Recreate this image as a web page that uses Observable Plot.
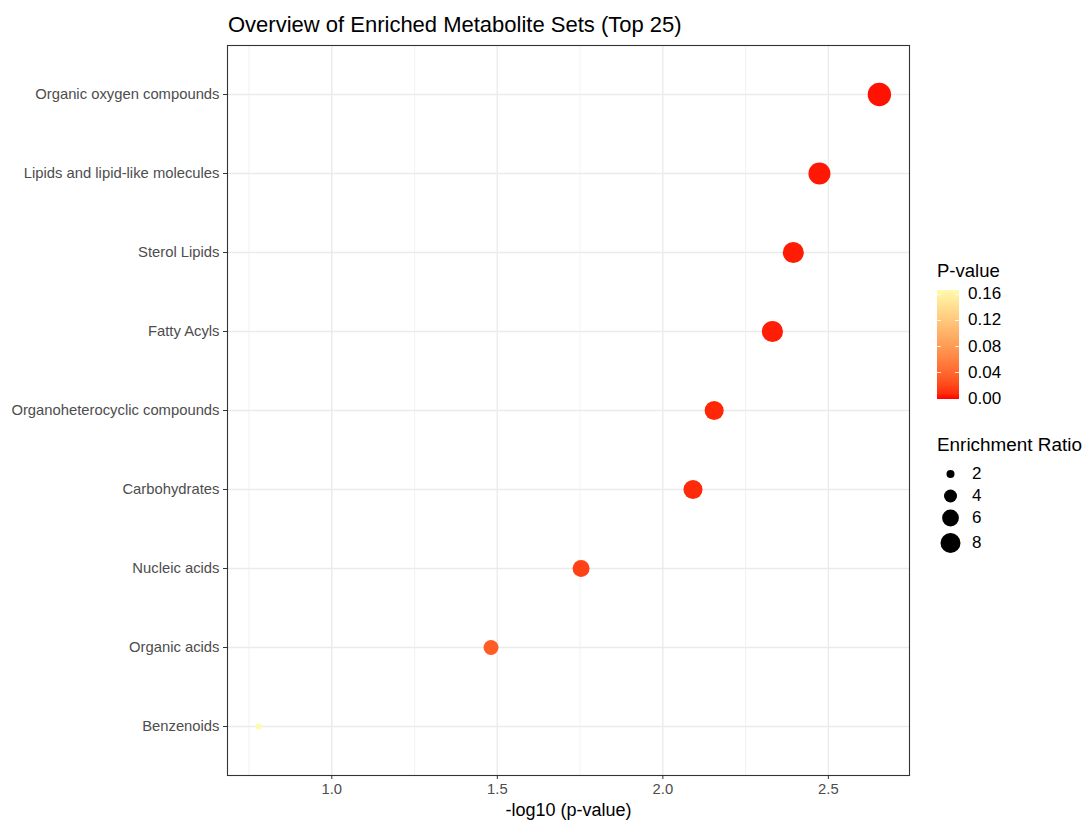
<!DOCTYPE html>
<html>
<head>
<meta charset="utf-8">
<script src="https://cdn.jsdelivr.net/npm/d3@7"></script>
<script src="https://cdn.jsdelivr.net/npm/@observablehq/plot@0.6"></script>
<style>
  body { margin: 0; background: #fff; }
  #wrap { position: relative; width: 1086px; height: 821px; font-family: "Liberation Sans", Arial, sans-serif; background: #fff; overflow: hidden; }
  #chart { position: absolute; left: 0; top: 0; }
  .abs { position: absolute; white-space: nowrap; }
</style>
</head>
<body>
<div id="wrap">
  <div id="chart"></div>
  <div id="title" class="abs" style="left:228px; top:12px; font-size:22px; color:#000;">Overview of Enriched Metabolite Sets (Top 25)</div>
  <div id="legend"></div>
</div>
<script>
// ---- data ----
const categories = [
  "Organic oxygen compounds",
  "Lipids and lipid-like molecules",
  "Sterol Lipids",
  "Fatty Acyls",
  "Organoheterocyclic compounds",
  "Carbohydrates",
  "Nucleic acids",
  "Organic acids",
  "Benzenoids"
];
const negLog10P = [2.654, 2.473, 2.394, 2.331, 2.155, 2.091, 1.753, 1.481, 0.779];
const pValues   = [0.00222, 0.00337, 0.00404, 0.00467, 0.00700, 0.00811, 0.0177, 0.0330, 0.1663];
const enrichment = [10.4, 9.4, 8.7, 8.8, 7.4, 7.4, 6.1, 5.0, 1.4];
const xTicks = [1.0, 1.5, 2.0, 2.5];
const xMinorTicks = [0.75, 1.25, 1.75, 2.25];
const colorTicks = [0.00, 0.04, 0.08, 0.12, 0.16];
const sizeTicks = [2, 4, 6, 8];
const xTitle = "-log10 (p-value)";

const data = categories.map((c, i) => ({set: c, x: negLog10P[i], p: pValues[i], er: enrichment[i]}));

const chart = Plot.plot({
  width: 1086,
  height: 821,
  marginLeft: 227,
  marginRight: 177,
  marginTop: 45,
  marginBottom: 46,
  style: {fontFamily: "'Liberation Sans', Arial, sans-serif", background: "transparent"},
  x: {domain: [0.685, 2.745]},
  y: {type: "point", domain: categories, padding: 0.6},
  color: {type: "linear", domain: [0, d3.max(pValues)], range: ["#ff0000", "#fffaac"], interpolate: "lab"},
  r: {type: "sqrt", domain: [2, 8], range: [4, 10]},
  marks: [
    Plot.ruleX(xMinorTicks, {stroke: "#ededed", strokeWidth: 0.7}),
    Plot.ruleX(xTicks, {stroke: "#ebebeb", strokeWidth: 1.4}),
    Plot.ruleY(categories, {y: d => d, stroke: "#ebebeb", strokeWidth: 1.4}),
    Plot.dot(data, {x: "x", y: "set", r: "er", fill: "p", stroke: "none"}),
    Plot.frame({stroke: "#333333", strokeWidth: 1.1}),
    Plot.axisX(xTicks, {
      tickSize: 4, tickPadding: 4, stroke: "#333333", fill: "#4d4d4d",
      fontSize: 14.8, tickFormat: d => d.toFixed(1),
      label: xTitle, labelAnchor: "center", labelArrow: "none", labelOffset: 40
    }),
    Plot.axisY({tickSize: 4, tickPadding: 4, stroke: "#333333", fill: "#4d4d4d", fontSize: 14.8, label: null})
  ]
});
document.getElementById("chart").appendChild(chart);

// style the x-axis title (black, larger)
chart.querySelectorAll("[aria-label='x-axis label'] text, [aria-label='x-axis label']").forEach(el => {
  el.setAttribute("fill", "#000");
  el.setAttribute("font-size", "18");
});

// ---- legends built from the chart's own scales ----
const legend = document.getElementById("legend");
const colorScale = chart.scale("color");
const rScale = chart.scale("r");
const [c0, c1] = colorScale.domain;

// colour bar
const barLeft = 937, barTop = 290, barW = 22, barH = 109;
const stops = d3.range(0, 21).map(i => {
  const v = c0 + (c1 - c0) * i / 20;
  return `${colorScale.apply(v)} ${(i * 5)}%`;
});
let html = "";
html += `<div class="abs" style="left:${barLeft}px; top:${barTop - 30}px; font-size:18.5px; color:#000;">P-value</div>`;
html += `<div class="abs" style="left:${barLeft}px; top:${barTop}px; width:${barW}px; height:${barH}px; background:linear-gradient(to top, ${stops.join(",")});"></div>`;
colorTicks.forEach(v => {
  const y = barTop + barH - (v - c0) / (c1 - c0) * barH;
  html += `<div class="abs" style="left:${barLeft}px; top:${y - 0.5}px; width:4px; height:1px; background:rgba(255,255,255,0.8);"></div>`;
  html += `<div class="abs" style="left:${barLeft + barW - 4}px; top:${y - 0.5}px; width:4px; height:1px; background:rgba(255,255,255,0.8);"></div>`;
  html += `<div class="abs" style="left:968px; top:${y - 10}px; font-size:17px; line-height:20px; color:#000;">${v.toFixed(2)}</div>`;
});

// size legend
html += `<div class="abs" style="left:937px; top:434px; font-size:18.9px; color:#000;">Enrichment Ratio</div>`;
const keyY = [474, 496, 518, 543];
let svg = `<svg class="abs" style="left:930px; top:460px;" width="40" height="100">`;
sizeTicks.forEach((v, i) => {
  svg += `<circle cx="20.5" cy="${keyY[i] - 460}" r="${rScale.apply(v)}" fill="#000"/>`;
});
svg += `</svg>`;
html += svg;
sizeTicks.forEach((v, i) => {
  html += `<div class="abs" style="left:972px; top:${keyY[i] - 10}px; font-size:17px; line-height:20px; color:#000;">${v}</div>`;
});
legend.innerHTML = html;
</script>
</body>
</html>
